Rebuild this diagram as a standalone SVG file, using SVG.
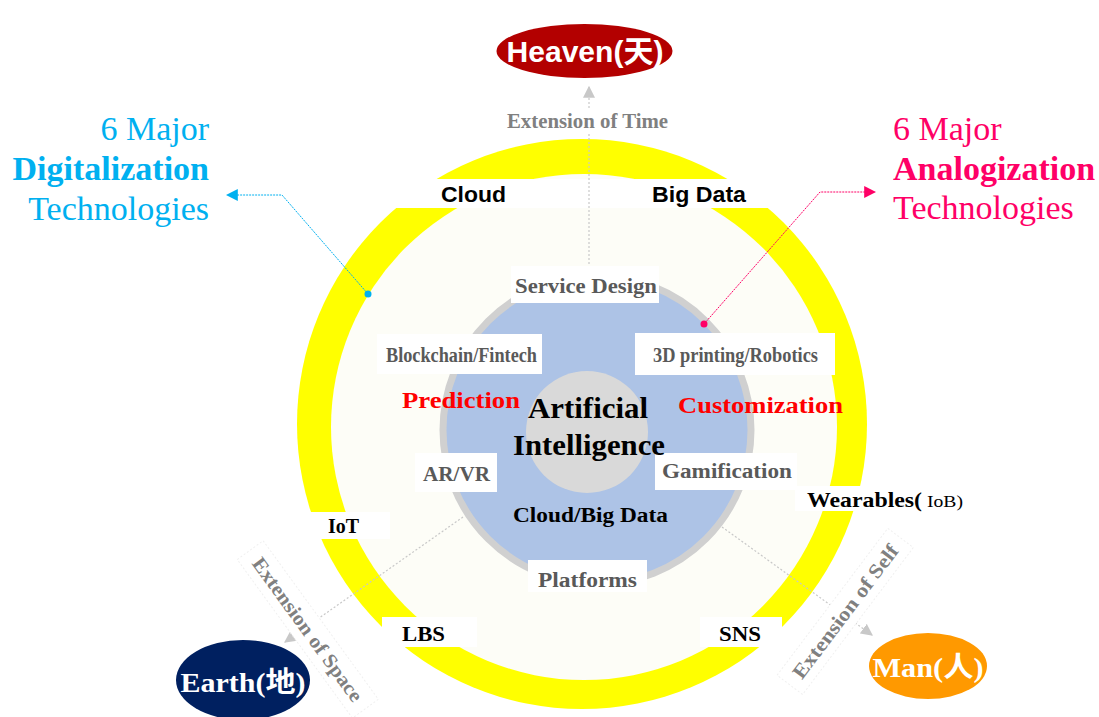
<svg xmlns="http://www.w3.org/2000/svg" width="1099" height="717" viewBox="0 0 1099 717">
<style>
.box{fill:#ffffff}
.lbl{font-family:"Liberation Serif","Times New Roman",serif;font-weight:bold;fill:#595959}
.ring{font-family:"Liberation Serif","Times New Roman",serif;font-weight:bold;fill:#000000}
.sans{font-family:"Liberation Sans",Arial,sans-serif;font-weight:bold;fill:#000000}
.ext{font-family:"Liberation Serif","Times New Roman",serif;font-weight:bold;fill:#808080;font-size:20px}
.side{font-family:"Liberation Serif","Times New Roman",serif;font-size:34px}
.dotg{stroke:#c8c8c8;stroke-width:1.2;stroke-dasharray:2 2;fill:none}
</style>
<defs>
<marker id="ag" viewBox="0 0 10 10" refX="9" refY="5" markerWidth="12" markerHeight="12" markerUnits="userSpaceOnUse" orient="auto"><path d="M0,0 L10,5 L0,10 z" fill="#c8c8c8"/></marker>
<marker id="ac" viewBox="0 0 10 10" refX="9" refY="5" markerWidth="12" markerHeight="12" markerUnits="userSpaceOnUse" orient="auto"><path d="M0,0 L10,5 L0,10 z" fill="#00b0f0"/></marker>
<marker id="ap" viewBox="0 0 10 10" refX="9" refY="5" markerWidth="12" markerHeight="12" markerUnits="userSpaceOnUse" orient="auto"><path d="M0,0 L10,5 L0,10 z" fill="#ff0066"/></marker>
</defs>
<rect width="1099" height="717" fill="#ffffff"/>

<g id="ring">
<circle cx="582" cy="424" r="285" fill="#ffff00"/>
<circle cx="584" cy="427" r="253" fill="#fdfdf7"/>
<rect class="box" x="385" y="179" width="390" height="29"/>
<rect class="box" x="300" y="512" width="90" height="27"/>
<rect class="box" x="382" y="617" width="95" height="30"/>
<rect class="box" x="700" y="617" width="82" height="30"/>
<rect class="box" x="795" y="486" width="80" height="25"/>
<text class="sans" x="441" y="202" font-size="22" textLength="65" lengthAdjust="spacingAndGlyphs">Cloud</text>
<text class="sans" x="652" y="202" font-size="22" textLength="94" lengthAdjust="spacingAndGlyphs">Big Data</text>
<text class="ring" x="328" y="533" font-size="21" textLength="31" lengthAdjust="spacingAndGlyphs">IoT</text>
<text class="ring" x="402" y="641" font-size="22" textLength="43" lengthAdjust="spacingAndGlyphs">LBS</text>
<text class="ring" x="719" y="641" font-size="22" textLength="42" lengthAdjust="spacingAndGlyphs">SNS</text>
<text class="ring" x="807" y="507" font-size="22" textLength="115" lengthAdjust="spacingAndGlyphs">Wearables(</text>
<text x="927" y="507" font-size="17" font-family="'Liberation Serif','Times New Roman',serif" fill="#000000" textLength="36" lengthAdjust="spacingAndGlyphs">IoB)</text>
</g>

<g id="connectors">
<line class="dotg" x1="589" y1="276" x2="589" y2="87" marker-end="url(#ag)"/>
<line class="dotg" x1="463" y1="517" x2="285" y2="642" marker-end="url(#ag)"/>
<line class="dotg" x1="722" y1="527" x2="872" y2="635" marker-end="url(#ag)"/>
</g>

<g id="core">
<circle cx="597" cy="430" r="154" fill="#adc3e6" stroke="#d0d0d0" stroke-width="7"/>
<circle cx="587" cy="432" r="61" fill="#d9d9d9"/>
<rect class="box" x="511" y="266" width="148" height="37"/>
<rect class="box" x="377" y="334" width="165" height="40"/>
<rect class="box" x="635" y="333" width="200" height="42"/>
<rect class="box" x="415" y="453" width="82" height="39"/>
<rect class="box" x="655" y="453" width="142" height="37"/>
<rect class="box" x="528" y="560" width="119" height="32"/>
<text class="lbl" x="515" y="293" font-size="20" textLength="142" lengthAdjust="spacingAndGlyphs">Service Design</text>
<text class="lbl" x="386" y="362" font-size="21" textLength="151" lengthAdjust="spacingAndGlyphs">Blockchain/Fintech</text>
<text class="lbl" x="653" y="362" font-size="21" textLength="165" lengthAdjust="spacingAndGlyphs">3D printing/Robotics</text>
<text class="lbl" x="423" y="481" font-size="20" textLength="67" lengthAdjust="spacingAndGlyphs">AR/VR</text>
<text class="lbl" x="662" y="478" font-size="20" textLength="130" lengthAdjust="spacingAndGlyphs">Gamification</text>
<text class="lbl" x="538" y="587" font-size="20" textLength="99" lengthAdjust="spacingAndGlyphs">Platforms</text>
<text class="lbl" x="402" y="408" font-size="24" style="fill:#ff0000" textLength="118" lengthAdjust="spacingAndGlyphs">Prediction</text>
<text class="lbl" x="678" y="413" font-size="24" style="fill:#ff0000" textLength="165" lengthAdjust="spacingAndGlyphs">Customization</text>
<text class="lbl" x="528" y="418" font-size="29" style="fill:#000000" textLength="120" lengthAdjust="spacingAndGlyphs">Artificial</text>
<text class="lbl" x="513" y="455" font-size="29" style="fill:#000000" textLength="152" lengthAdjust="spacingAndGlyphs">Intelligence</text>
<text class="lbl" x="513" y="522" font-size="20" style="fill:#000000" textLength="155" lengthAdjust="spacingAndGlyphs">Cloud/Big Data</text>
</g>

<g id="ext-time">
<rect class="box" x="503" y="108" width="170" height="26"/>
<text class="ext" x="507" y="128" textLength="161" lengthAdjust="spacingAndGlyphs">Extension of  Time</text>
</g>
<g id="ext-space" transform="translate(307,630) rotate(54)">
<rect x="-98" y="-17" width="196" height="32" fill="#ffffff" stroke="#f0f0f0" stroke-width="1" stroke-dasharray="2 2"/>
<text class="ext" x="0" y="6" text-anchor="middle" textLength="173" lengthAdjust="spacingAndGlyphs">Extension  of  Space</text>
</g>
<g id="ext-self" transform="translate(846,612) rotate(-53)">
<rect x="-92" y="-17" width="184" height="32" fill="#ffffff" stroke="#f0f0f0" stroke-width="1" stroke-dasharray="2 2"/>
<text class="ext" x="0" y="6" text-anchor="middle" textLength="162" lengthAdjust="spacingAndGlyphs">Extension  of  Self</text>
</g>

<g id="heaven">
<ellipse cx="584.5" cy="51" rx="88" ry="27" fill="#b30000"/>
<text x="585" y="62" text-anchor="middle" font-family="'Liberation Sans','Noto Sans CJK SC',sans-serif" font-weight="bold" font-size="30" fill="#ffffff" textLength="157" lengthAdjust="spacingAndGlyphs">Heaven(天)</text>
</g>
<g id="earth">
<ellipse cx="243" cy="680" rx="67" ry="40" fill="#002060"/>
<text x="243" y="692" text-anchor="middle" font-family="'Liberation Serif','Noto Sans CJK SC',serif" font-weight="bold" font-size="28" fill="#ffffff" textLength="125" lengthAdjust="spacingAndGlyphs">Earth(地)</text>
</g>
<g id="man">
<ellipse cx="928" cy="666" rx="59" ry="33" fill="#ff9900"/>
<text x="928" y="677" text-anchor="middle" font-family="'Liberation Serif','Noto Sans CJK SC',serif" font-weight="bold" font-size="28" fill="#ffffff" textLength="111" lengthAdjust="spacingAndGlyphs">Man(人)</text>
</g>

<g id="digital">
<text class="side" x="209" y="140" text-anchor="end" fill="#00b0f0">6 Major</text>
<text class="side" x="209" y="180" text-anchor="end" fill="#00b0f0" font-weight="bold">Digitalization</text>
<text class="side" x="209" y="220" text-anchor="end" fill="#00b0f0">Technologies</text>
</g>
<g id="analog">
<text class="side" x="893" y="140" fill="#ff0066">6 Major</text>
<text class="side" x="893" y="180" fill="#ff0066" font-weight="bold">Analogization</text>
<text class="side" x="893" y="219" fill="#ff0066">Technologies</text>
</g>

<g id="pointers">
<polyline points="368,294 282,195 227,195" fill="none" stroke="#00b0f0" stroke-width="1" stroke-dasharray="2 1" marker-end="url(#ac)"/>
<circle cx="368" cy="294" r="3.5" fill="#00b0f0"/>
<polyline points="704,324 820,192 875,192" fill="none" stroke="#ff0066" stroke-width="1" stroke-dasharray="2 1" marker-end="url(#ap)"/>
<circle cx="704" cy="324" r="3.5" fill="#ff0066"/>
</g>
</svg>
